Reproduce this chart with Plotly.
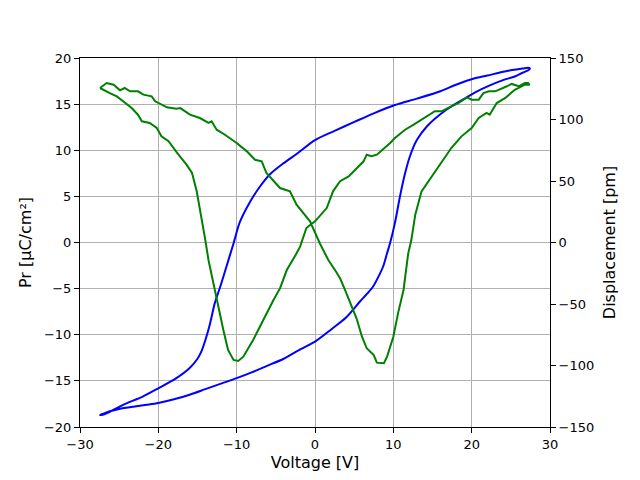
import plotly.graph_objects as go

# Polarization hysteresis loop (left axis, µC/cm²)
pr_voltage = [-27.45, -27.0, -26.2, -25.0, -23.2, -21.5, -20.0, -18.0, -16.0, -14.0, -12.0, -10.0,
              -8.0, -6.2, -4.0, -2.35, 0.0, 2.1, 4.0, 5.74, 6.6, 7.4, 8.1, 8.7, 9.15, 9.57, 10.2,
              10.85, 11.5, 12.1, 13.0, 14.3, 16.0, 17.5, 19.1, 20.5, 22.1, 24.0, 25.5, 26.5, 27.2,
              27.45,
              27.2, 26.5, 24.5, 22.0, 20.2, 18.0, 16.0, 13.0, 10.2, 7.5, 5.1, 2.5, 0.0, -2.35, -4.0,
              -5.74, -7.0, -8.3, -9.6, -10.4, -11.3, -12.1, -12.8, -13.4, -14.0, -14.5, -15.0,
              -16.0, -17.7, -20.0, -22.0, -24.5, -26.2, -27.0, -27.45]
pr_values = [-18.7, -18.55, -18.3, -18.05, -17.8, -17.6, -17.4, -17.0, -16.5, -15.9, -15.3, -14.7,
             -14.05, -13.4, -12.6, -11.8, -10.75, -9.4, -8.1, -6.4, -5.6, -4.8, -3.7, -2.6, -1.3,
             -0.1, 2.1, 5.0, 7.5, 9.3, 11.1, 12.6, 13.9, 14.8, 15.6, 16.3, 16.95, 17.6, 18.0, 18.4,
             18.65, 18.85,
             18.95, 18.85, 18.6, 18.1, 17.75, 17.1, 16.4, 15.6, 14.9, 14.0, 13.1, 12.1, 11.1, 9.6,
             8.6, 7.4, 6.1, 4.4, 2.2, -0.1, -2.6, -4.8, -6.6, -8.8, -10.6, -11.8, -12.6, -13.6,
             -14.7, -15.8, -16.7, -17.6, -18.35, -18.65, -18.7]

# Displacement butterfly loop (right axis, pm)
disp_voltage = [-27.45, -26.6, -25.7, -24.9, -24.3, -23.6, -22.6, -21.9, -20.85, -20.4, -18.9, -17.7,
                -17.2, -15.96, -14.7, -13.6, -13.2, -12.55, -11.5, -10.0, -8.7, -7.66, -6.8, -6.2,
                -4.47, -3.2, -2.35, -0.64, 0.64, 1.7, 2.55, 3.2, 3.83, 4.7, 5.3, 6.0, 6.6, 7.5, 7.9,
                8.8, 9.2, 10.0, 10.6, 11.3, 11.9, 12.3, 12.8, 13.6, 14.5, 15.7, 16.6, 17.4, 18.7,
                20.0, 20.9, 21.9, 22.3, 23.2, 24.3, 25.5, 26.8, 27.4,
                27.2, 26.8, 26.0, 25.1, 24.5, 23.9, 23.0, 22.2, 21.5, 20.9, 20.0, 19.4, 18.3, 17.4,
                16.2, 15.3, 14.0, 12.6, 11.5, 10.2, 9.6, 8.9, 7.9, 7.2, 6.6, 6.2, 5.3, 4.3, 3.2, 2.3,
                1.5, 0.4, 0.0, -1.1, -1.9, -2.35, -3.6, -4.47, -5.3, -6.6, -7.9, -9.15, -9.8, -10.4,
                -11.1, -11.7, -12.3, -13.0, -13.6, -14.0, -14.5, -15.1, -15.7, -16.4, -17.6, -18.7,
                -19.6, -20.2, -21.1, -22.1, -22.6, -23.4, -24.5, -25.3, -26.2, -27.45]
disp_values = [125.6, 129.7, 128.3, 123.7, 125.6, 122.9, 122.9, 120.2, 118.8, 114.8, 109.9, 108.8,
               109.3, 103.9, 101.2, 97.2, 98.5, 91.7, 87.6, 80.9, 74.1, 67.3, 66.0, 56.5,
               44.3, 41.6, 30.7, 17.2, -1.0, -14.2, -22.4, -29.1, -38.6, -52.2, -61.6, -76.6, -86.0,
               -91.5, -97.7, -98.2, -92.8, -76.6, -57.6, -38.6, -8.8, 2.0, 22.6, 41.6, 49.8, 60.6,
               68.7, 76.8, 86.3, 93.1, 101.2, 105.3, 103.9, 113.4, 117.5, 124.2, 128.3, 128.3,
               129.7, 129.7, 127.0, 128.9, 127.0, 125.6, 122.9, 122.9, 121.5, 116.1, 116.1, 118.0,
               113.4, 110.7, 106.7, 106.7, 101.2, 95.8, 91.7, 85.0, 80.9, 76.8, 71.4, 70.1, 71.4,
               66.0, 60.6, 53.8, 49.8, 41.6, 28.0, 19.9, 17.2, 11.8, -3.4, -8.8, -22.4, -37.3, -46.7,
               -63.0, -79.3, -92.8, -96.3, -95.5, -87.4, -71.1, -52.2, -33.2, -14.2, 2.0, 19.9,
               41.6, 56.5, 63.3, 72.8, 82.3, 86.3, 93.1, 97.2, 98.5, 103.9, 109.3, 114.8, 118.8,
               121.5, 125.6]

x_ticks = [-30, -20, -10, 0, 10, 20, 30]
y_ticks = [-20, -15, -10, -5, 0, 5, 10, 15, 20]
y2_ticks = [-150, -100, -50, 0, 50, 100, 150]

font = "DejaVu Sans"

fig = go.Figure()
fig.add_trace(go.Scatter(x=pr_voltage, y=pr_values, mode="lines",
                         line=dict(color="#0000ff", width=2, shape="spline", smoothing=0.8),
                         yaxis="y", showlegend=False))
fig.add_trace(go.Scatter(x=disp_voltage, y=disp_values, mode="lines",
                         line=dict(color="#008000", width=2), yaxis="y2", showlegend=False))

axis_common = dict(showline=True, linecolor="black", linewidth=1, ticks="outside", ticklen=5,
                   tickwidth=1, tickcolor="black", tickfont=dict(family=font, size=13, color="black"),
                   zeroline=False)

# margins compensate the page's default 8px body offset
fig.update_layout(
    width=640, height=480,
    margin=dict(l=72, r=98, t=50, b=61),
    paper_bgcolor="white", plot_bgcolor="white",
    font=dict(family=font, color="black"),
    xaxis=dict(range=[-30, 30], tickvals=x_ticks, showgrid=True, gridcolor="#b0b0b0", gridwidth=1,
               mirror=True,
               title=dict(text="Voltage [V]", font=dict(family=font, size=16), standoff=6),
               **axis_common),
    yaxis=dict(range=[-20, 20], tickvals=y_ticks, showgrid=True, gridcolor="#b0b0b0", gridwidth=1,
               title=dict(text="Pr [µC/cm²]", font=dict(family=font, size=16), standoff=8),
               **axis_common),
    yaxis2=dict(range=[-150, 150], tickvals=y2_ticks, overlaying="y", side="right", showgrid=False,
                title=dict(text="Displacement [pm]", font=dict(family=font, size=16), standoff=10),
                **axis_common),
)

fig.write_html("out.html")
